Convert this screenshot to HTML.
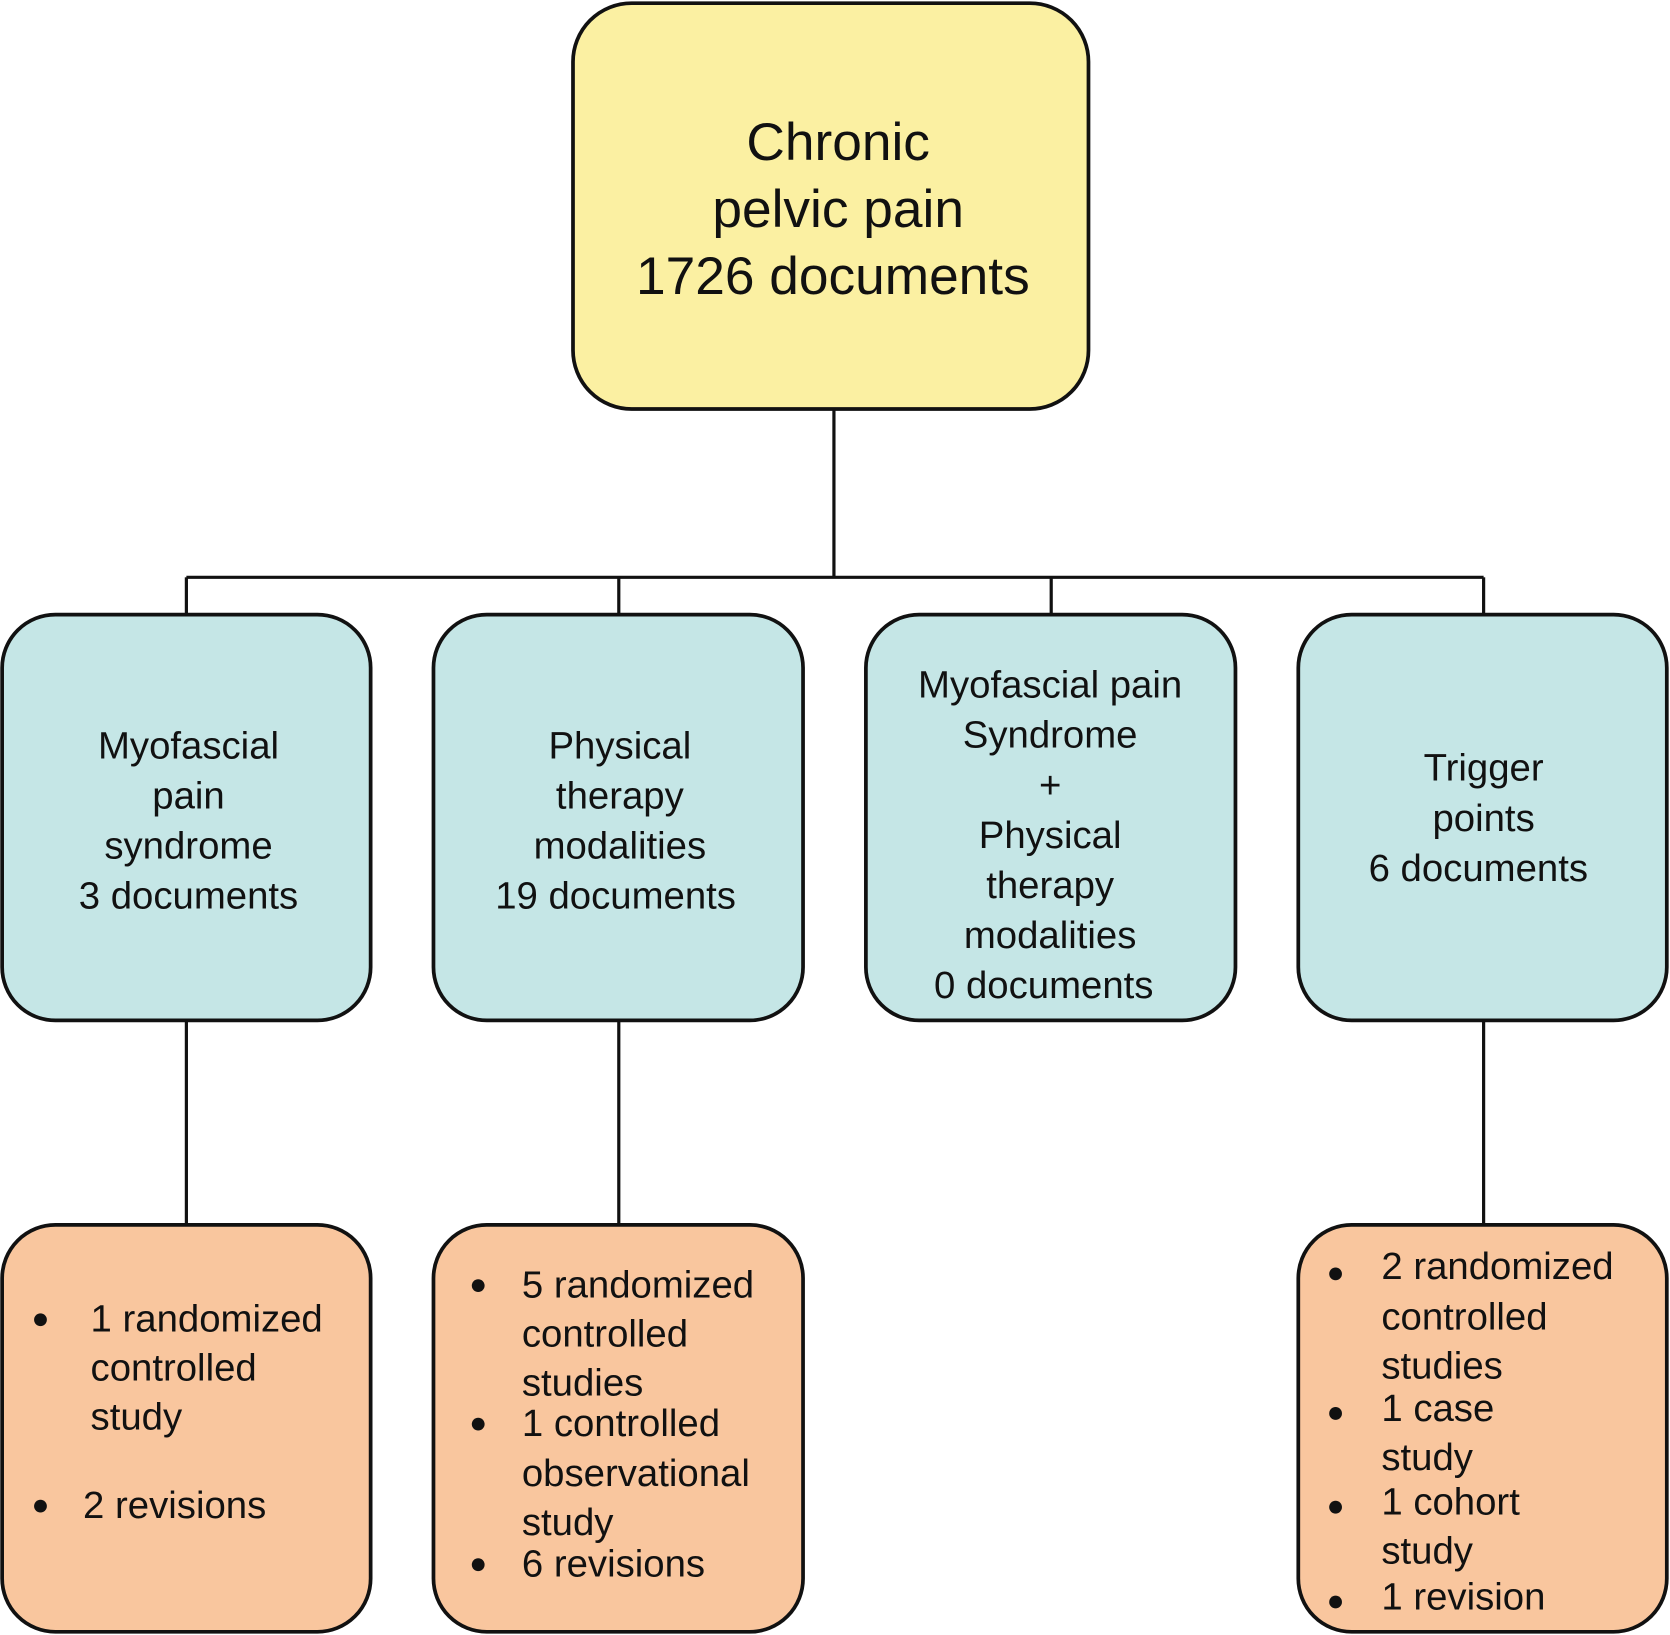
<!DOCTYPE html>
<html><head><meta charset="utf-8"><style>html,body{margin:0;padding:0;background:#fff}svg{display:block}</style></head>
<body>
<svg width="1670" height="1635" viewBox="0 0 1568 1535" preserveAspectRatio="none" xmlns="http://www.w3.org/2000/svg" font-family="Liberation Sans, Arial, sans-serif" fill="#111">
<g stroke="#111" stroke-width="3" fill="none">
<line x1="783" y1="384" x2="783" y2="542"/>
<line x1="175" y1="542" x2="1393" y2="542"/>
<line x1="175" y1="542" x2="175" y2="577"/>
<line x1="581" y1="542" x2="581" y2="577"/>
<line x1="987" y1="542" x2="987" y2="577"/>
<line x1="1393" y1="542" x2="1393" y2="577"/>
<line x1="175" y1="958" x2="175" y2="1150"/>
<line x1="581" y1="958" x2="581" y2="1150"/>
<line x1="1393" y1="958" x2="1393" y2="1150"/>
</g>
<g stroke="#111" stroke-width="3.5">
<rect x="538" y="3" width="484" height="381" rx="55" fill="#FBF0A2"/>
<rect x="2" y="577" width="346" height="381" rx="50" fill="#C5E6E6"/>
<rect x="407" y="577" width="347" height="381" rx="50" fill="#C5E6E6"/>
<rect x="813" y="577" width="347" height="381" rx="50" fill="#C5E6E6"/>
<rect x="1219" y="577" width="346" height="381" rx="50" fill="#C5E6E6"/>
<rect x="2" y="1150" width="346" height="382" rx="50" fill="#F9C69E"/>
<rect x="407" y="1150" width="347" height="382" rx="50" fill="#F9C69E"/>
<rect x="1219" y="1150" width="346" height="382" rx="50" fill="#F9C69E"/>
</g>
<g font-size="50" text-anchor="middle">
<text x="787" y="150">Chronic</text>
<text x="787" y="213">pelvic pain</text>
<text x="782" y="276">1726 documents</text>
</g>
<g font-size="36" text-anchor="middle">
<text x="177" y="712">Myofascial</text><text x="177" y="759">pain</text><text x="177" y="806">syndrome</text><text x="177" y="853">3 documents</text>
<text x="582" y="712">Physical</text><text x="582" y="759">therapy</text><text x="582" y="806">modalities</text><text x="578" y="853">19 documents</text>
<text x="986" y="655">Myofascial pain</text><text x="986" y="702">Syndrome</text><text x="986" y="749">+</text><text x="986" y="796">Physical</text><text x="986" y="843">therapy</text><text x="986" y="890">modalities</text><text x="980" y="937">0 documents</text>
<text x="1393" y="733">Trigger</text><text x="1393" y="780">points</text><text x="1388" y="827">6 documents</text>
</g>
<g font-size="36">
<text x="85" y="1250">1 randomized</text><text x="85" y="1296">controlled</text><text x="85" y="1342">study</text><text x="78" y="1425">2 revisions</text>
<text x="490" y="1218">5 randomized</text><text x="490" y="1264">controlled</text><text x="490" y="1310">studies</text><text x="490" y="1348">1 controlled</text><text x="490" y="1395">observational</text><text x="490" y="1441">study</text><text x="490" y="1480">6 revisions</text>
<text x="1297" y="1201">2 randomized</text><text x="1297" y="1248">controlled</text><text x="1297" y="1294">studies</text><text x="1297" y="1334">1 case</text><text x="1297" y="1380">study</text><text x="1297" y="1422">1 cohort</text><text x="1297" y="1468">study</text><text x="1297" y="1511">1 revision</text>
</g>
<g fill="#111">
<circle cx="38" cy="1239" r="6"/><circle cx="38" cy="1414" r="6"/>
<circle cx="449" cy="1207" r="6"/><circle cx="449" cy="1337" r="6"/><circle cx="449" cy="1469" r="6"/>
<circle cx="1254" cy="1196" r="6"/><circle cx="1254" cy="1327" r="6"/><circle cx="1254" cy="1415" r="6"/><circle cx="1254" cy="1504" r="6"/>
</g>
</svg>
</body></html>
